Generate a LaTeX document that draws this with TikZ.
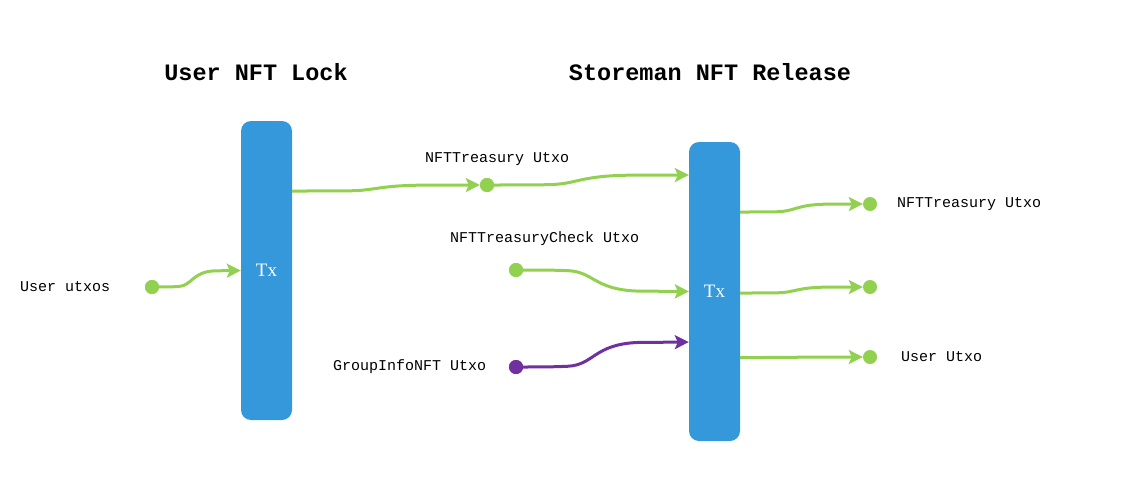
\documentclass[tikz,border=0pt]{standalone}
\usepackage{fontspec}
\setmainfont{Liberation Serif}
\newfontfamily\monofont{Liberation Mono}
\usetikzlibrary{arrows.meta,calc}
\definecolor{txblue}{RGB}{53,152,219}
\definecolor{lgreen}{RGB}{146,208,80}
\definecolor{gpurple}{RGB}{112,48,160}
\begin{document}
\begin{tikzpicture}[x=1pt,y=-1pt,
 txbar/.style={draw=none,fill=txblue,rounded corners=10pt,minimum width=51pt,minimum height=299pt,inner sep=0pt,text=white,font=\fontsize{19}{19}\selectfont},
 dot/.style={circle,fill=#1,minimum size=14pt,inner sep=0pt},
 lbl/.style={font=\monofont\fontsize{15}{15}\selectfont,inner sep=0pt,anchor=west},
 ttl/.style={font=\monofont\bfseries\fontsize{23.5}{24}\selectfont,inner sep=0pt},
 wave/.style={to path={let \p1=(\tikztostart),\p2=(\tikztotarget) in .. controls (\x1+0.15*\x2-0.15*\x1,\y1) and (\x1+0.2*\x2-0.2*\x1,\y1) .. (\x1+0.3*\x2-0.3*\x1,\y1+0.03*\y2-0.03*\y1) .. controls (\x1+0.45*\x2-0.45*\x1,\y1+0.08*\y2-0.08*\y1) and (\x1+0.45*\x2-0.45*\x1,\y1+0.9*\y2-0.9*\y1) .. (\x1+0.7*\x2-0.7*\x1,\y1+0.98*\y2-0.98*\y1) -- (\tikztotarget)}},
 flow/.style={line width=3pt,draw=#1,-{Stealth[length=14pt,width=14pt,inset=3pt]}}
]
\fill[white] (0,0) rectangle (1124,487);
\useasboundingbox (0,0) rectangle (1124,487);

% titles
\node[ttl] (t1) at (256,72) {User NFT Lock};
\node[ttl] (t2) at (710,72) {Storeman NFT Release};

% tx bars
\node[txbar] (tx1) at (266.5,270.5) {Tx};
\node[txbar] (tx2) at (714.5,291.5) {Tx};

% dots
\node[dot=lgreen] (ux) at (152,287) {};
\node[dot=lgreen] (d1) at (487,185) {};
\node[dot=lgreen] (chk) at (516,270) {};
\node[dot=gpurple] (grp) at (516,367) {};
\node[dot=lgreen] (o1) at (870,204) {};
\node[dot=lgreen] (o2) at (870,287) {};
\node[dot=lgreen] (o3) at (870,357) {};

% labels
\node[lbl] (lux) at (20,287) {User utxos};
\node[lbl] (ld1) at (425,159) {NFTTreasury Utxo};
\node[lbl] (lchk) at (450,239) {NFTTreasuryCheck Utxo};
\node[lbl] (lgrp) at (333,367) {GroupInfoNFT Utxo};
\node[lbl] (lo1) at (897,204) {NFTTreasury Utxo};
\node[lbl] (lo3) at (901,357) {User Utxo};

% connectors
\draw[flow=lgreen] (ux.center) to[wave] (tx1.west);
\draw[flow=lgreen] ([yshift=79.5pt]tx1.east) to[wave] (d1.west);
\draw[flow=lgreen] (d1.center) to[wave] ([yshift=116.5pt]tx2.west);
\draw[flow=lgreen] (chk.center) to[wave] ([yshift=0pt]tx2.west);
\draw[flow=gpurple] (grp.center) to[wave] ([yshift=-50.5pt]tx2.west);
\draw[flow=lgreen] ([yshift=79.5pt]tx2.east) to[wave] (o1.west);
\draw[flow=lgreen] ([yshift=-1.5pt]tx2.east) to[wave] (o2.west);
\draw[flow=lgreen] ([yshift=-66pt]tx2.east) to[wave] (o3.west);

% dots on top of line starts
\fill[lgreen] (ux) circle (7pt);
\fill[lgreen] (d1) circle (7pt);
\fill[lgreen] (chk) circle (7pt);
\fill[gpurple] (grp) circle (7pt);
\end{tikzpicture}
\end{document}
